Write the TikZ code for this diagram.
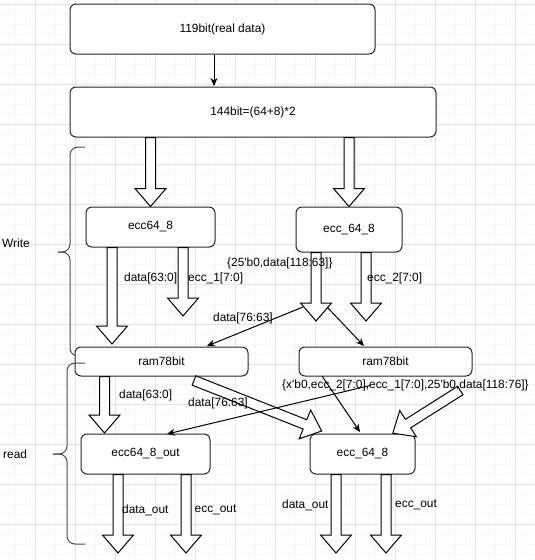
\documentclass[tikz,border=0pt]{standalone}
\usepackage{fontspec}
\setmainfont{Liberation Sans}
\usetikzlibrary{arrows.meta,calc}

\newcommand{\apos}{\textquotesingle}
% hollow block arrow from #1 to #2
\newcommand{\fatarrow}[2]{%
  \draw[fat] let \p1=(#1), \p2=(#2), \n1={atan2(\y2-\y1,\x2-\x1)}, \n2={veclen(\x2-\x1,\y2-\y1)} in
    [shift={(\p1)}, rotate=\n1] (0pt,-5pt) -- ({\n2-18pt},-5pt) -- ({\n2-18pt},-15.5pt)
    -- ({\n2*1pt},0pt) -- ({\n2-18pt},15.5pt) -- ({\n2-18pt},5pt) -- (0pt,5pt) -- cycle;}

\begin{document}
\begin{tikzpicture}
[x=1pt,y=-1pt,font=\fontsize{11.9}{13.5}\selectfont,
box/.style={draw=black!85,line width=1pt,rounded corners=6pt,fill=white,inner sep=0pt},
fat/.style={draw=black,line width=1pt,fill=white,line join=miter},
link/.style={draw=black,line width=1pt,-{Stealth[length=8pt,width=7pt]}},
lbl/.style={anchor=west,inner sep=0pt},
brace/.style={draw=black!70,line width=1pt,rounded corners=8pt},
minor/.style={black!3,line width=0.6pt},
major/.style={black!11,line width=0.6pt}]
\useasboundingbox (0,0) rectangle (535,560);
\fill[white] (0,0) rectangle (535,560);
\foreach \x in {5,15,...,535} \draw[minor] (\x,0) -- (\x,560);
\foreach \y in {4,14,...,560} \draw[minor] (0,\y) -- (535,\y);
\foreach \x in {35,75,...,535} \draw[major] (\x,0) -- (\x,560);
\foreach \y in {4,44,...,560} \draw[major] (0,\y) -- (535,\y);

% write part
\draw[brace] (85,147) -- (70,147) -- (70,252) -- (58,252);
\draw[brace] (58,252) -- (70,252) -- (70,356) -- (80,356);
\node[lbl] (write) at (2,243) {Write};

\node[box,minimum width=305,minimum height=50] (real) at (222.5,29) {119bit(real data)};
\node[box,minimum width=366,minimum height=50] (full) at (253,112) {144bit=(64+8)*2};
\node[box,minimum width=129,minimum height=40] (enc1) at (150.5,227) {ecc64\_8};
\node[box,minimum width=106,minimum height=45] (enc2) at (349,229.5) {ecc\_64\_8};
\node[box,minimum width=173,minimum height=29] (ram1) at (161.5,361.5) {ram78bit};
\node[box,minimum width=173,minimum height=29] (ram2) at (385.5,361.5) {ram78bit};
\node[box,minimum width=129,minimum height=40] (dec1) at (145.5,454) {ecc64\_8\_out};
\node[box,minimum width=105,minimum height=40] (dec2) at (362.5,454) {ecc\_64\_8};

\coordinate (t1) at (214,86);
\coordinate (d1) at (112,344);
\coordinate (c1) at (183,316);
\coordinate (c2) at (316,321);
\coordinate (c3) at (366,321);
\coordinate (d2) at (104.5,433);
\coordinate (r1) at (194,380.5);
\coordinate (d3) at (321.7,431);
\coordinate (r2) at (460.3,390.5);
\coordinate (d4) at (392.7,433.3);
\coordinate (o1) at (118,553);
\coordinate (o2) at (186,553);
\coordinate (o3) at (336,553);
\coordinate (o4) at (386,553);
\coordinate (s1) at (303,307);
\coordinate (t2) at (207,346);
\coordinate (s2) at (327,307);
\coordinate (t3) at (364,346);
\coordinate (s4) at (322,376);
\coordinate (t4) at (360,432);
\coordinate (s3) at (370,385.5);
\coordinate (t5) at (167,434);

\draw[link] (real.south -| t1) -- (t1);

\fatarrow{full.south -| enc1.north}{enc1.north}
\fatarrow{full.south -| enc2.north}{enc2.north}
\fatarrow{enc1.south -| d1}{d1}
\fatarrow{enc1.south -| c1}{c1}
\fatarrow{enc2.south -| c2}{c2}
\fatarrow{enc2.south -| c3}{c3}
\fatarrow{ram1.south -| d2}{d2}
\fatarrow{r1}{d3}
\fatarrow{r2}{d4}
\fatarrow{dec1.south -| o1}{o1}
\fatarrow{dec1.south -| o2}{o2}
\fatarrow{dec2.south -| o3}{o3}
\fatarrow{dec2.south -| o4}{o4}

\draw[link] (s1) -- (t2);
\draw[link] (s2) -- (t3);
\draw[link] (s4) -- (t4);
\draw[link] (s3) -- (t5);

\node[lbl] (l1) at (124,278) {data[63:0]};
\node[lbl] (l2) at (188,278) {ecc\_1[7:0]};
\node[lbl] (l3) at (227,263) {\{25\apos b0,data[118:63]\}};
\node[lbl] (l4) at (367,278) {ecc\_2[7:0]};
\node[lbl] (l5) at (213,318) {data[76:63]};
\node[lbl] (l6) at (119,395) {data[63:0]};
\node[lbl] (l7) at (188,403) {data[76:63]};
\node[lbl] (l8) at (282,385) {\{x\apos b0,ecc\_2[7:0],ecc\_1[7:0],25\apos b0,data[118:76]\}};
\node[lbl] (l9) at (122,510) {data\_out};
\node[lbl] (l10) at (194.5,510) {ecc\_out};
\node[lbl] (l11) at (282,505) {data\_out};
\node[lbl] (l12) at (395,505) {ecc\_out};

% read part
\draw[brace] (85,363) -- (67,363) -- (67,454) -- (53,454);
\draw[brace] (53,454) -- (67,454) -- (67,544) -- (85,544);
\node[lbl] (read) at (3,454) {read};
\end{tikzpicture}
\end{document}
